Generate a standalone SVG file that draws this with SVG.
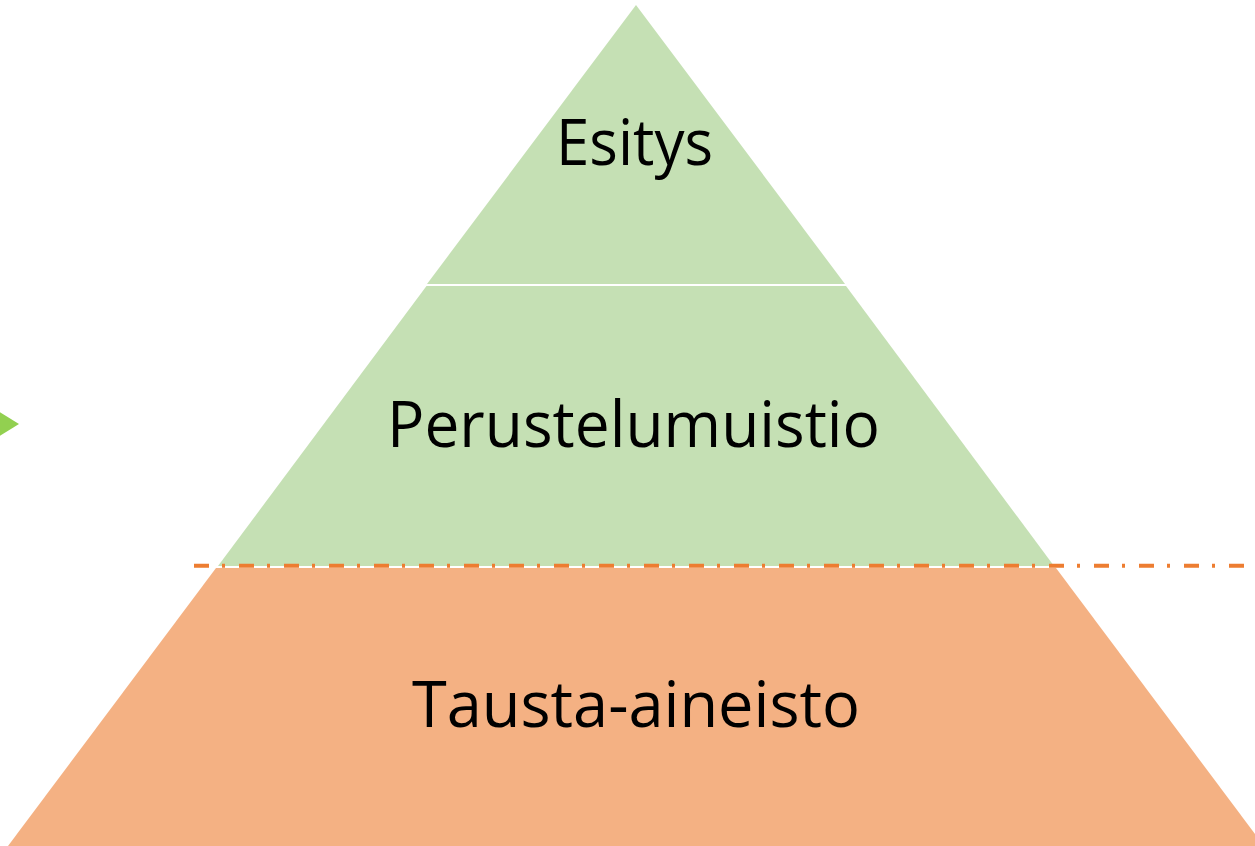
<svg xmlns="http://www.w3.org/2000/svg" width="1255" height="846" viewBox="0 0 1255 846">
<style>
.lbl{font-family:"Open Sans","Liberation Sans",sans-serif;font-size:64px;fill:#000;text-anchor:middle}
.green{fill:#C5E0B4}
.orange{fill:#F4B183}
</style>
<rect width="1255" height="846" fill="#fff"/>
<g id="arrow"><polygon points="-2,411 19,424 -2,437" fill="#92D050"/></g>
<g id="esitys">
<polygon class="green" points="636,5 845,284 427,284"/>
<text class="lbl" x="634.5" y="165" textLength="157" lengthAdjust="spacingAndGlyphs">Esitys</text>
</g>
<g id="perustelumuistio">
<polygon class="green" points="426.5,286 846,286 1054,566 218,566"/>
<text class="lbl" x="633.5" y="447" textLength="493" lengthAdjust="spacingAndGlyphs">Perustelumuistio</text>
</g>
<g id="tausta">
<polygon class="orange" points="216,568 1056,568 1264,846 8,846"/>
<text class="lbl" x="636" y="727" textLength="448" lengthAdjust="spacingAndGlyphs">Tausta-aineisto</text>
</g>
<g id="connectors">
<line x1="194" y1="565.7" x2="1255" y2="565.7" stroke="#ED7D31" stroke-width="4" stroke-dasharray="15 13 3 14"/>
</g>
</svg>
